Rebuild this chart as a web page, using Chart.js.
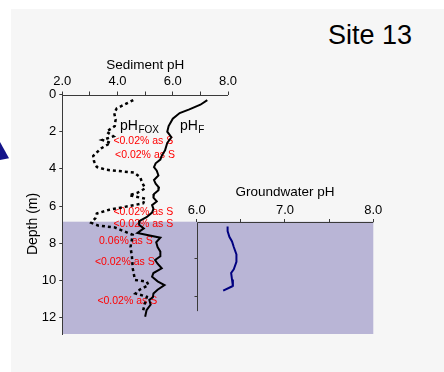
<!DOCTYPE html>
<html>
<head>
<meta charset="utf-8">
<script src="https://cdn.jsdelivr.net/npm/chart.js@4"></script>
<style>
  html, body { margin: 0; padding: 0; background: #fff; }
  #wrap { position: relative; width: 444px; height: 372px; overflow: hidden; }
  #panel { position: absolute; left: 11px; top: 9px; right: 0; bottom: 0; background: #f6f6f6; }
  #arrow { position: absolute; left: 0; top: 142px; width: 9px; height: 18px; background: #14148a;
           clip-path: polygon(0 0, 100% 90%, 0 100%); }
  #site { position: absolute; left: 328px; top: 22px; font: 27px 'Liberation Sans', Arial, sans-serif;
          line-height: 1; color: #000; }
  canvas { position: absolute; left: 0; top: 0; }
</style>
</head>
<body>
<div id="wrap">
  <div id="panel"></div>
  <div id="arrow"></div>
  <div id="site">Site 13</div>
  <canvas id="chart" width="444" height="372"></canvas>
</div>
<script>
// depth (m) and pH
const fDepth = [0.3, 0.55, 0.8, 1.0, 1.3, 1.7, 2.0, 2.3, 2.6, 3.0, 3.3, 3.5, 3.7, 3.9, 4.1, 4.35, 4.6, 4.8, 5.0, 5.15,
                5.35, 5.55, 5.75, 5.95, 6.15, 6.35, 6.6, 6.8, 7.0, 7.2, 7.45, 7.7, 7.95, 8.2, 8.45, 8.7, 8.9, 9.1, 9.35,
                9.6, 9.8, 10.05, 10.25, 10.5, 10.7, 10.9, 11.05, 11.3, 11.6, 11.95];
const fPH = [7.25, 7.0, 6.6, 6.25, 6.0, 5.85, 5.8, 5.95, 5.8, 5.72, 5.6, 5.55, 5.38, 5.32, 5.42, 5.48, 5.32, 5.38, 5.5, 5.48,
             5.32, 5.3, 5.42, 5.25, 5.3, 5.25, 5.05, 4.8, 4.78, 4.95, 4.72, 5.55, 5.4, 5.45, 5.55, 5.55, 5.36, 5.45, 5.6,
             5.3, 5.25, 5.45, 5.7, 5.45, 5.3, 5.28, 5.15, 5.2, 5.05, 5.0];

const foxDepth = [0.3, 0.75, 1.0, 1.35, 1.7, 2.0, 2.25, 2.45, 2.6, 2.9, 3.3, 3.6, 3.9, 4.05, 4.2, 4.45, 4.7, 5.05, 5.3, 5.42,
                  5.6, 5.85, 5.95, 6.2, 6.4, 6.65, 6.9, 7.05, 7.15, 7.55, 8.2, 8.7, 9.35, 9.97, 10.07, 10.25, 10.5, 10.7,
                  10.88, 11.3, 11.6];
const foxPH = [4.57, 3.97, 3.88, 3.93, 3.9, 3.6, 3.85, 3.45, 3.75, 3.4, 3.12, 3.15, 3.25, 3.6, 4.6, 4.82, 4.88, 5.0, 4.7, 4.42,
               5.0, 4.93, 4.6, 3.7, 3.25, 3.2, 3.05, 3.3, 3.9, 4.55, 4.47, 4.52, 4.55, 4.63, 5.06, 5.12, 4.8, 4.65,
               5.06, 4.98, 4.93];

const gwDepth = [7.1, 7.35, 7.65, 7.9, 8.2, 8.6, 9.0, 9.4, 9.6, 9.95, 10.3, 10.55];
const gwPH = [6.35, 6.35, 6.37, 6.4, 6.42, 6.45, 6.45, 6.42, 6.39, 6.4, 6.41, 6.3];

const waterTable = 6.84;
const sedTicks = [2, 3, 4, 5, 6, 7, 8];
const gwTicks = [6, 6.5, 7, 7.5, 8];
const depthTicks = [0, 2, 4, 6, 8, 10, 12];
const gwDepthTicks = [8.8, 10.85];
const gwLineEnd = 11.65;

// sulfur notes: text, depth, sediment pH at left edge of text
const noteText = ['<0.02% as S', '<0.02% as S', '<0.02% as S', '<0.02% as S', '0.06% as S', '<0.02% as S', '<0.02% as S'];
const noteDepth = [2.5, 3.25, 6.33, 6.96, 7.91, 9.04, 11.09];
const notePH = [3.85, 3.91, 3.85, 3.85, 3.33, 3.18, 3.27];

const FONT = "'Liberation Sans', Arial, sans-serif";
const AXIS = '#3a3a3a';

const toPts = (ds, vs) => ds.map((d, i) => ({ x: vs[i], y: d }));

const overlay = {
  id: 'overlay',
  beforeDraw(chart) {
    const { ctx, chartArea: a, scales: { x2, y } } = chart;
    ctx.save();
    ctx.fillStyle = '#b9b5d6';
    const top = y.getPixelForValue(waterTable);
    ctx.fillRect(a.left, top, x2.getPixelForValue(8) - a.left, a.bottom - top);
    ctx.restore();
  },
  beforeDatasetsDraw(chart) {
    const { ctx, scales: { x, y } } = chart;
    ctx.save();
    ctx.fillStyle = '#ff0000';
    ctx.font = '10.5px ' + FONT;
    ctx.textBaseline = 'middle';
    noteText.forEach((t, i) => {
      ctx.fillText(t, x.getPixelForValue(notePH[i]), y.getPixelForValue(noteDepth[i]));
    });
    ctx.restore();
  },
  afterDatasetsDraw(chart) {
    const { ctx, scales: { x, x2, y } } = chart;
    ctx.save();
    ctx.strokeStyle = AXIS;
    ctx.lineWidth = 1;
    // sediment pH axis line
    const y0 = Math.round(y.getPixelForValue(0)) + 0.5;
    ctx.beginPath();
    ctx.moveTo(x.getPixelForValue(2), y0);
    ctx.lineTo(x.getPixelForValue(8), y0);
    ctx.stroke();
    // groundwater axis line + its depth line
    const yw = Math.round(y.getPixelForValue(waterTable)) + 0.5;
    const xg = Math.round(x2.getPixelForValue(6)) + 0.5;
    ctx.beginPath();
    ctx.moveTo(xg, yw);
    ctx.lineTo(x2.getPixelForValue(8), yw);
    ctx.moveTo(xg, yw);
    ctx.lineTo(xg, y.getPixelForValue(gwLineEnd));
    gwDepthTicks.forEach(d => {
      const py = Math.round(y.getPixelForValue(d)) + 0.5;
      ctx.moveTo(xg - 3, py);
      ctx.lineTo(xg, py);
    });
    ctx.stroke();

    // titles
    ctx.fillStyle = '#000';
    ctx.textBaseline = 'middle';
    ctx.textAlign = 'center';
    ctx.font = '13.5px ' + FONT;
    ctx.fillText('Sediment pH', (x.getPixelForValue(2) + x.getPixelForValue(8)) / 2, 65);
    ctx.fillText('Groundwater pH', x2.getPixelForValue(7), yw - 30);
    ctx.save();
    ctx.translate(33, 224);
    ctx.rotate(-Math.PI / 2);
    ctx.font = '14px ' + FONT;
    ctx.fillText('Depth (m)', 0, 0);
    ctx.restore();

    // series labels with subscripts
    ctx.textAlign = 'left';
    ctx.textBaseline = 'alphabetic';
    const lab = (main, sub, ph, d) => {
      const px = x.getPixelForValue(ph), py = y.getPixelForValue(d);
      ctx.font = '14px ' + FONT;
      ctx.fillText(main, px, py);
      const w = ctx.measureText(main).width;
      ctx.font = '10px ' + FONT;
      ctx.fillText(sub, px + w + 0.5, py + 2.5);
    };
    lab('pH', 'FOX', 4.09, 1.91);
    lab('pH', 'F', 6.26, 1.91);
    ctx.restore();
  }
};

new Chart(document.getElementById('chart'), {
  type: 'scatter',
  data: {
    datasets: [
      { label: 'pHF', data: toPts(fDepth, fPH), xAxisID: 'x', yAxisID: 'y', showLine: true,
        borderColor: '#000', borderWidth: 2, pointRadius: 0, tension: 0 },
      { label: 'pHFOX', data: toPts(foxDepth, foxPH), xAxisID: 'x', yAxisID: 'y', showLine: true,
        borderColor: '#000', borderWidth: 2.5, borderDash: [3, 3], pointRadius: 0, tension: 0 },
      { label: 'Groundwater', data: toPts(gwDepth, gwPH), xAxisID: 'x2', yAxisID: 'y', showLine: true,
        borderColor: '#000080', borderWidth: 2, pointRadius: 0, tension: 0 }
    ]
  },
  options: {
    responsive: false,
    animation: false,
    devicePixelRatio: 1,
    layout: { padding: { left: 0, top: 0, right: 70.7, bottom: 38 } },
    plugins: { legend: { display: false }, tooltip: { enabled: false } },
    scales: {
      x: {
        type: 'linear', position: 'top', min: 2, max: 13.26,
        afterBuildTicks: s => { s.ticks = sedTicks.map(v => ({ value: v })); },
        afterFit: s => { s.height = 94.5; },
        border: { display: false },
        grid: { drawOnChartArea: false, tickLength: 3, color: AXIS },
        ticks: { padding: 2, color: '#000', autoSkip: false, maxRotation: 0, font: { size: 13, family: FONT },
                 callback: v => (v % 2 === 0 ? v.toFixed(1) : '') }
      },
      x2: {
        type: 'linear', position: { y: waterTable }, min: 4.478, max: 8,
        afterBuildTicks: s => { s.ticks = gwTicks.map(v => ({ value: v })); },
        border: { display: false },
        grid: { drawOnChartArea: false, tickLength: -3, color: AXIS },
        ticks: { padding: -16, color: '#000', autoSkip: false, maxRotation: 0, font: { size: 13, family: FONT },
                 callback: v => (Number.isInteger(v) ? v.toFixed(1) : '') }
      },
      y: {
        type: 'linear', position: 'left', reverse: true, min: 0, max: 12.88,
        afterBuildTicks: s => { s.ticks = depthTicks.map(v => ({ value: v })); },
        afterFit: s => { s.width = 62.3; },
        border: { display: true, color: AXIS, width: 1 },
        grid: { drawOnChartArea: false, tickLength: 3, color: AXIS },
        ticks: { padding: 3, color: '#000', font: { size: 13, family: FONT } }
      }
    }
  },
  plugins: [overlay]
});
</script>
</body>
</html>
